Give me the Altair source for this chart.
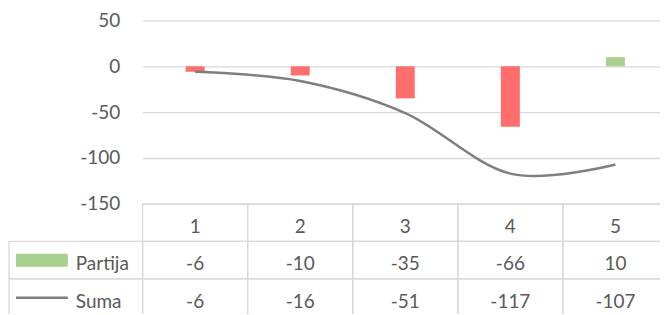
import altair as alt
import pandas as pd

categories = ["1", "2", "3", "4", "5"]
partija = [-6, -10, -35, -66, 10]
suma = [-6, -16, -51, -117, -107]
y_ticks = [-150, -100, -50, 0, 50]
series = ["Partija", "Suma"]
header_key = "hdr"

RED = "#FF6D6D"
GREEN = "#A9D08E"
LINE = "#7F7F7F"
GRID = "#D9D9D9"
TXT = "#595959"
FONT = "Lato"
FS = 19

W = 527
H = 297
PLOT_H = 184
px_per_unit = PLOT_H / (y_ticks[-1] - y_ticks[0])
y_lo = y_ticks[-1] - H / px_per_unit

bars_df = pd.DataFrame({"cat": categories, "v": partija})
line_df = pd.DataFrame({"cat": categories, "v": suma})

rows = [header_key] + series
tbl = []
for i, c in enumerate(categories):
    tbl.append({"row": header_key, "cat": c, "txt": c})
    tbl.append({"row": "Partija", "cat": c, "txt": str(partija[i])})
    tbl.append({"row": "Suma", "cat": c, "txt": str(suma[i])})
tbl_df = pd.DataFrame(tbl)
leg_df = pd.DataFrame({"row": series, "k": ["lg"] * len(series)})

xcat = alt.X("cat:N", scale=alt.Scale(domain=categories, paddingInner=0, paddingOuter=0), axis=None)
yv_scale = alt.Scale(domain=[y_lo, y_ticks[-1]], nice=False, zero=False)
yrow = alt.Y("row:N", scale=alt.Scale(domain=rows, range=[PLOT_H, H], paddingInner=0, paddingOuter=0), axis=None)

bars = alt.Chart(bars_df).mark_bar(size=19).encode(
    x=xcat,
    y=alt.Y("v:Q", scale=yv_scale,
            axis=alt.Axis(values=y_ticks, title=None, grid=True, gridColor=GRID, gridWidth=1.3,
                          ticks=False, domain=False, labelFont=FONT, labelFontSize=FS,
                          labelColor=TXT, labelPadding=23, labelExpr="datum.value + ''")),
    y2=alt.datum(0),
    color=alt.condition(alt.datum.v < 0, alt.value(RED), alt.value(GREEN)),
)

line = alt.Chart(line_df).mark_line(interpolate="cardinal", tension=0, color=LINE, strokeWidth=2.5).encode(
    x=xcat,
    y=alt.Y("v:Q", scale=yv_scale, axis=None),
)

cells = alt.Chart(tbl_df).mark_rect(fillOpacity=0, stroke=GRID, strokeWidth=1.3).encode(
    x=xcat, y=yrow
)
cell_txt = alt.Chart(tbl_df).mark_text(font=FONT, fontSize=FS, color=TXT, dy=4).encode(
    x=xcat, y=yrow, text="txt:N"
)

leg_scale = alt.Scale(domain=["lg"], range=[-134, 0], paddingInner=0, paddingOuter=0)
sym_scale = alt.Scale(domain=["lg"], range=[-127, -75], paddingInner=0, paddingOuter=0)
leg_cells = alt.Chart(leg_df).mark_rect(fillOpacity=0, stroke=GRID, strokeWidth=1.3).encode(
    x=alt.X("k:N", scale=leg_scale, axis=None), y=yrow
)
leg_bar = alt.Chart(leg_df[leg_df.row == "Partija"]).mark_point(
    shape="M-1,-0.25H1V0.25H-1Z", size=2704, filled=True, color=GREEN, opacity=1
).encode(x=alt.X("k:N", scale=sym_scale, axis=None), y=yrow)
leg_line = alt.Chart(leg_df[leg_df.row == "Suma"]).mark_point(
    shape="M-1,0L1,0", size=2704, filled=False, color=LINE, strokeWidth=2.5, opacity=1
).encode(x=alt.X("k:N", scale=sym_scale, axis=None), y=yrow)
leg_txt = alt.Chart(leg_df).mark_text(font=FONT, fontSize=FS, color=TXT, align="left", dy=4).encode(
    x=alt.X("k:N", scale=leg_scale, axis=None, bandPosition=0.487), y=yrow, text="row:N"
)

chart = alt.layer(bars, line, cells, cell_txt, leg_cells, leg_bar, leg_line, leg_txt).resolve_scale(
    x="independent", y="independent"
).properties(
    width=W, height=H, padding={"left": 0, "top": 3, "right": -9, "bottom": -4}
).configure_view(strokeWidth=0)

chart.save("out.html", embed_options={"renderer": "svg", "actions": False})
